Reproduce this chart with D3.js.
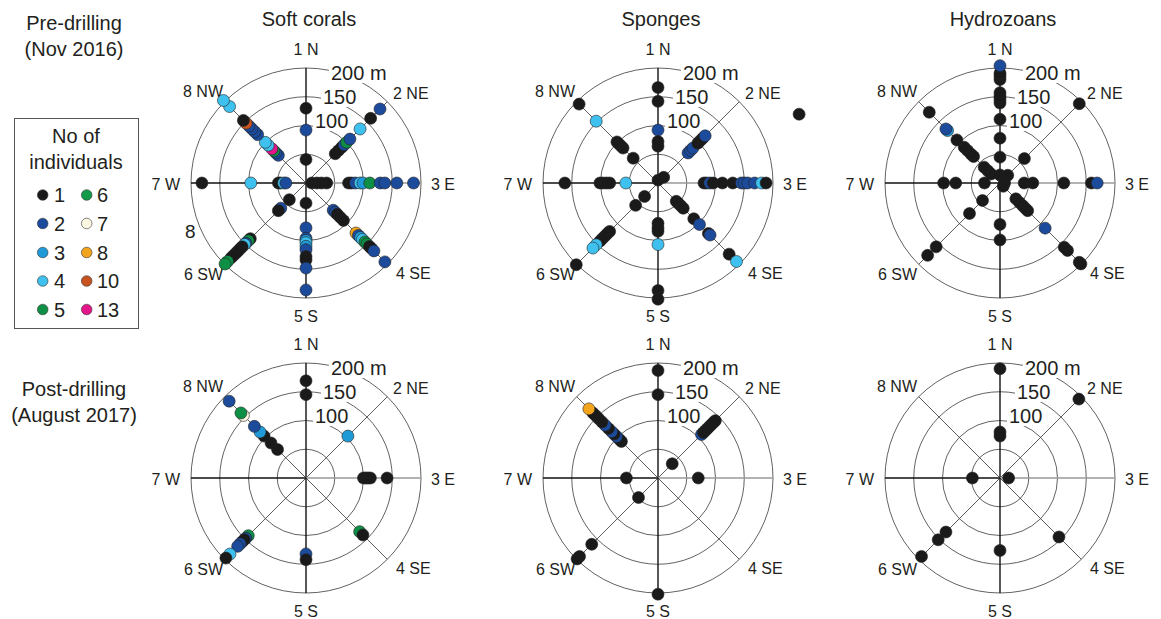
<!DOCTYPE html>
<html>
  <head>
    <meta charset="utf-8" />
    <title>polar plots</title>
    <script type="text/javascript" src="https://d3js.org/d3.v7.min.js"></script>
    <style>
      body { margin: 0; background: #fff; }
      text { font-family: "Liberation Sans", Arial, sans-serif; fill: #231f20; }
    </style>
  </head>
  <body>
    <div id="chart"></div>
    <script>
// each record: [direction (1..8), distance in m, no of individuals]
const softPre = [
  [1,130,1],[1,92,2],[1,41,1],
  [2,72,1],[2,80,1],[2,88,1],[2,94,2],[2,100,5],[2,108,2],[2,133,4],[2,159,1],[2,182,2],
  [3,10,1],[3,19,1],[3,27,1],[3,36,1],[3,74,1],[3,79,1],[3,86,2],[3,94,4],[3,99,3],[3,111,5],[3,129,2],[3,137,2],[3,158,2],[3,187,2],
  [4,67,2],[4,72,2],[4,77,1],[4,84,1],[4,92,1],[4,123,8],[4,129,2],[4,134,3],[4,139,4],[4,145,5],[4,150,5],[4,156,1],[4,161,1],[4,167,2],[4,194,2],
  [5,35,1],[5,78,2],[5,96,2],[5,100,3],[5,104,4],[5,110,3],[5,116,2],[5,128,1],[5,134,1],[5,148,2],[5,186,2],
  [6,41,1],[6,62,2],[6,68,1],[6,137,1],[6,142,5],[6,148,2],[6,151,4],[6,157,1],[6,162,1],[6,167,1],[6,172,1],[6,178,1],[6,184,1],[6,193,5],[6,199,5],
  [7,181,1],[7,96,4],[7,48,1],[7,45,1],[7,39,4],[7,35,2],
  [8,68,2],[8,74,2],[8,79,5],[8,84,13],[8,93,4],[8,100,4],[8,119,2],[8,126,2],[8,133,2],[8,140,2],[8,147,10],[8,154,1],[8,188,4],[8,203,4]
];
const spongePre = [
  [1,166,1],[1,142,1],[1,92,2],[1,72,1],[1,64,1],[1,5,1],
  [2,14,1],[2,74,2],[2,80,2],[2,86,2],[2,98,1],[2,104,1],[2,110,1],[2,116,2],
  [3,80,1],[3,84,1],[3,90,2],[3,96,1],[3,112,1],[3,130,1],[3,145,2],[3,150,2],[3,156,2],[3,168,2],[3,180,4],[3,188,1],
  [4,45,1],[4,50,1],[4,56,1],[4,62,1],[4,88,1],[4,102,2],[4,124,1],[4,128,2],[4,175,1],[4,193,4],
  [5,70,1],[5,78,1],[5,84,1],[5,107,4],[5,187,1],[5,202,1],
  [6,33,1],[6,55,1],[6,119,1],[6,125,1],[6,131,1],[6,137,1],[6,143,1],[6,152,4],[6,160,4],[6,201,1],
  [7,162,1],[7,101,1],[7,96,1],[7,90,1],[7,84,1],[7,56,4],
  [8,61,1],[8,86,1],[8,91,1],[8,96,1],[8,101,1],[8,152,4],[8,194,1]
];
const hydroPre = [
  [1,14,1],[1,45,1],[1,78,1],[1,111,1],[1,139,1],[1,145,1],[1,151,1],[1,157,1],[1,180,1],[1,186,1],[1,191,1],[1,204,2],
  [2,19,1],[2,60,1],[2,195,1],
  [3,8,1],[3,42,1],[3,57,1],[3,111,1],[3,159,1],[3,169,2],
  [4,8,1],[4,39,1],[4,48,1],[4,56,1],[4,62,1],[4,68,1],[4,111,2],[4,158,1],[4,166,1],[4,195,1],[4,199,1],
  [5,72,1],[5,99,1],
  [6,43,1],[6,75,1],[6,157,1],[6,178,1],
  [7,98,1],[7,77,1],[7,27,1],
  [8,22,1],[8,30,1],[8,39,1],[8,65,1],[8,71,1],[8,80,1],[8,88,1],[8,106,1],[8,129,3],[8,133,2],[8,174,1]
];
const softPost = [
  [1,169,1],[1,145,1],
  [2,103,3],
  [3,100,1],[3,104,1],[3,108,1],[3,112,1],[3,141,1],
  [4,132,5],[4,140,1],
  [5,132,2],[5,142,1],
  [6,142,5],[6,148,2],[6,152,1],[6,157,1],[6,162,2],[6,168,2],[6,187,4],[6,197,1],
  [8,70,1],[8,86,1],[8,103,1],[8,113,3],[8,127,2],[8,154,7],[8,160,5],[8,189,2]
];
const spongePost = [
  [1,187,1],[1,145,1],
  [2,35,1],[2,107,2],[2,112,1],[2,117,1],[2,122,1],[2,127,1],[2,132,1],[2,137,1],[2,141,1],
  [3,70,1],
  [5,202,1],
  [6,48,1],[6,163,1],[6,193,1],[6,199,1],
  [7,55,1],
  [8,90,1],[8,95,1],[8,102,2],[8,108,1],[8,114,2],[8,122,1],[8,130,2],[8,138,1],[8,146,1],[8,153,1],[8,160,1],[8,170,8]
];
const hydroPost = [
  [1,190,1],[1,80,1],[1,73,1],
  [2,194,1],
  [3,15,1],
  [4,145,1],
  [5,126,1],
  [6,133,1],[6,152,1],[6,193,1],
  [7,48,1]
];
// odd dot outside the sponges plot: [bearing in degrees, distance in m, count]
const spongeStray = [[64,273,1]];

const groups = ["Soft corals", "Sponges", "Hydrozoans"];
const periods = [["Pre-drilling", "(Nov 2016)"], ["Post-drilling", "(August 2017)"]];
const directions = ["1 N", "2 NE", "3 E", "4 SE", "5 S", "6 SW", "7 W", "8 NW"];
const rings = [50, 100, 150, 200];
const ringLabels = [[100, "100"], [150, "150"], [200, "200 m"]];
const counts = [1, 2, 3, 4, 5, 6, 7, 8, 10, 13];
const countColors = ["#1a1a1a", "#1c4b9b", "#1f9ad7", "#3fc1ef", "#0e8f46", "#109a49", "#fcf7e1", "#f2a51c", "#c9531f", "#e5168b"];
const legendOrder = [[1, 6], [2, 7], [3, 8], [4, 10], [5, 13]];

const W = 1161, H = 619;
const R = 115;
const colX = [306, 658, 1000];
const rowY = [183, 478];
const panels = [
  [softPre, spongePre, hydroPre],
  [softPost, spongePost, hydroPost]
];

const color = d3.scaleOrdinal().domain(counts).range(countColors);
const rScale = d3.scaleLinear().domain([0, 200]).range([0, R]);
const bearing = d => (d - 1) * 45 * Math.PI / 180;

// label offsets from the plot centre per direction [dx, dy(baseline), anchor]
const dirLabelPos = [[0,-128,"middle"],[87,-84,"start"],[125,7,"start"],[90,96,"start"],
                     [0,139,"middle"],[-83,97,"end"],[-126,7,"end"],[-83,-86,"end"]];
const ringLabelPos = {100: [9, -55], 150: [17, -79], 200: [25, -103]};

const svg = d3.select("#chart").append("svg")
  .attr("width", W).attr("height", H)
  .attr("viewBox", `0 0 ${W} ${H}`);
svg.append("rect").attr("width", W).attr("height", H).attr("fill", "#fff");

// column titles
svg.selectAll("text.title").data(groups).join("text")
  .attr("class", "title")
  .attr("x", (d, i) => colX[i] + 3)
  .attr("y", 26)
  .attr("text-anchor", "middle")
  .style("font-size", "20px")
  .text(d => d);

// row titles
periods.forEach((p, i) => {
  const t = svg.append("text")
    .attr("x", 74)
    .attr("y", i === 0 ? 30 : 396)
    .attr("text-anchor", "middle")
    .style("font-size", "20px");
  t.append("tspan").attr("x", 74).text(p[0]);
  t.append("tspan").attr("x", 74).attr("dy", 26).text(p[1]);
});

function polarXY(b, dist) {
  const r = rScale(dist);
  return [r * Math.sin(b), -r * Math.cos(b)];
}

function drawPanel(data, cx, cy, extra) {
  const g = svg.append("g").attr("transform", `translate(${cx},${cy})`);

  g.selectAll("circle.ring").data(rings).join("circle")
    .attr("class", "ring")
    .attr("r", d => rScale(d))
    .attr("fill", "none")
    .attr("stroke", "#3a3a3a")
    .attr("stroke-width", 0.8);

  // spokes
  g.selectAll("line.spoke").data(directions).join("line")
    .attr("class", "spoke")
    .attr("x1", 0).attr("y1", 0)
    .attr("x2", (d, i) => polarXY(bearing(i + 1), 200)[0])
    .attr("y2", (d, i) => polarXY(bearing(i + 1), 200)[1])
    .attr("stroke", (d, i) => i === 2 ? "#9a9a9a" : (i % 2 === 0 ? "#111" : "#333"))
    .attr("stroke-width", (d, i) => i % 2 === 0 ? 1.4 : 0.8);

  g.selectAll("text.dir").data(directions).join("text")
    .attr("class", "dir")
    .attr("x", (d, i) => dirLabelPos[i][0])
    .attr("y", (d, i) => dirLabelPos[i][1])
    .attr("text-anchor", (d, i) => dirLabelPos[i][2])
    .style("font-size", "16px")
    .text(d => d);

  // distance labels with a white patch behind them
  ringLabels.forEach(([v, lab]) => {
    const [dx, dy] = ringLabelPos[v];
    const bg = g.append("rect").attr("fill", "#fff");
    const t = g.append("text")
      .attr("x", dx).attr("y", dy)
      .style("font-size", "20px")
      .text(lab);
    const bb = t.node().getBBox();
    bg.attr("x", bb.x - 2).attr("y", bb.y + 1)
      .attr("width", bb.width + 4).attr("height", bb.height - 2);
  });

  g.selectAll("circle.dot").data(data).join("circle")
    .attr("class", "dot")
    .attr("cx", d => polarXY(bearing(d[0]), d[1])[0])
    .attr("cy", d => polarXY(bearing(d[0]), d[1])[1])
    .attr("r", 6)
    .attr("fill", d => color(d[2]))
    .attr("stroke", "#222")
    .attr("stroke-width", 0.6);

  if (extra) {
    g.selectAll("circle.extra").data(extra).join("circle")
      .attr("class", "extra")
      .attr("cx", d => polarXY(d[0] * Math.PI / 180, d[1])[0])
      .attr("cy", d => polarXY(d[0] * Math.PI / 180, d[1])[1])
      .attr("r", 6)
      .attr("fill", d => color(d[2]))
      .attr("stroke", "#222")
      .attr("stroke-width", 0.6);
  }
  return g;
}

panels.forEach((row, ri) => {
  row.forEach((data, ci) => {
    const g = drawPanel(data, colX[ci], rowY[ri], ri === 0 && ci === 1 ? spongeStray : null);
    if (ri === 0 && ci === 0) {
      // stray "8" left of the soft coral plot
      g.append("text").attr("x", -121).attr("y", 55)
        .style("font-size", "19px").text("8");
    }
  });
});

// legend
const lg = svg.append("g");
lg.append("rect")
  .attr("x", 14.5).attr("y", 118.5)
  .attr("width", 124).attr("height", 210)
  .attr("fill", "#fff").attr("stroke", "#555").attr("stroke-width", 1);
lg.append("text").attr("x", 76).attr("y", 143).attr("text-anchor", "middle")
  .style("font-size", "20px").text("No of");
lg.append("text").attr("x", 76).attr("y", 169).attr("text-anchor", "middle")
  .style("font-size", "20px").text("individuals");
const rowsY = [195, 223.5, 252.5, 281, 309.5];
legendOrder.forEach((pair, i) => {
  pair.forEach((c, j) => {
    lg.append("circle")
      .attr("cx", j === 0 ? 42.7 : 86.7).attr("cy", rowsY[i])
      .attr("r", 5.3)
      .attr("fill", color(c))
      .attr("stroke", "#333").attr("stroke-width", 0.6);
    lg.append("text")
      .attr("x", j === 0 ? 54 : 97).attr("y", rowsY[i] + 7)
      .style("font-size", "20px")
      .text(c);
  });
});
    </script>
  </body>
</html>
